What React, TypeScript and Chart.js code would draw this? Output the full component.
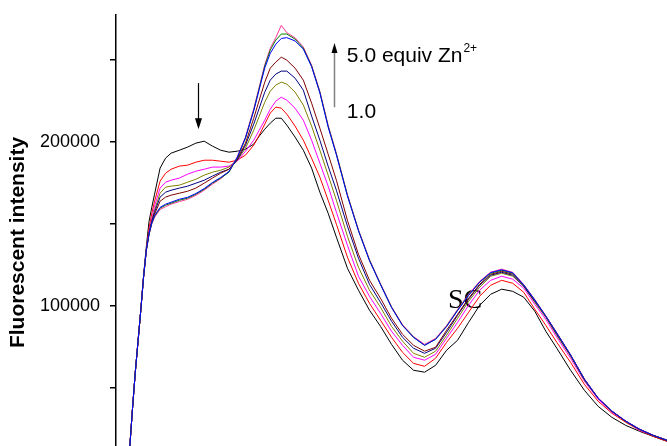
import React, { useEffect, useRef } from 'react';
import { Chart, registerables } from 'chart.js';
Chart.register(...registerables);

// Emission wavelength (nm) – the x axis is not shown in the figure
const wavelengths = [
  405, 406, 407, 408, 409, 410, 411,
  412, 413, 414, 416, 418, 420, 423, 426, 429, 432,
  435, 438, 441, 444, 447, 450, 452, 454, 456, 458,
  460, 462, 465, 468, 471, 474, 477, 480, 484, 488,
  492, 496, 500, 504, 508, 512, 516, 520, 524, 528,
  532, 536, 540, 544, 548, 552, 556, 560, 565, 570,
  575, 580, 585, 590, 595, 600,
];

const black = [
  14000, 37600, 59600, 78500, 97400, 118500, 136000,
  151600, 160200, 168100, 184000, 190100, 193100, 194900, 196800, 199200, 200400,
  197400, 194900, 193700, 194300, 195500, 198600, 203500, 207700, 211400, 214400,
  214400, 210200, 202900, 194900, 184000, 169300, 156500, 141900, 123000, 109600,
  97400, 87600, 76600, 66900, 60800, 59600, 63800, 73000, 79100, 90000,
  100400, 107100, 110200, 108900, 105300, 96800, 84600, 74200, 60800, 48600,
  38800, 32100, 27200, 23600, 20500, 17500,
];
const red = [
  14000, 37600, 59600, 78500, 97400, 117500, 134000,
  147400, 156500, 163800, 176000, 180900, 183300, 185200, 185800, 187600, 188800,
  188800, 188200, 187600, 188800, 191900, 198000, 204100, 210800, 217500, 221200,
  220500, 216900, 209600, 201000, 190000, 178500, 164400, 149800, 129700, 113800,
  101600, 91300, 80900, 71700, 65000, 63200, 68100, 77800, 86400, 96100,
  105900, 112600, 115600, 113800, 108300, 98000, 88200, 77800, 65600, 52200,
  41900, 34600, 29100, 24200, 20500, 17500,
];
const magenta = [
  14000, 37600, 59600, 78500, 97400, 117500, 134000,
  145500, 153500, 160800, 171800, 175400, 176600, 177900, 180300, 182100, 183300,
  184600, 184600, 185200, 188200, 194300, 201000, 207100, 213200, 219900, 224800,
  227200, 225400, 220500, 213200, 201000, 187000, 173000, 157100, 137000, 118100,
  105900, 95500, 84600, 76000, 68700, 66900, 70500, 80300, 90000, 100400,
  109600, 115600, 118100, 116300, 110800, 101000, 91900, 80900, 68100, 54100,
  43100, 35200, 29700, 24200, 21100, 18100,
];
const olive = [
  14000, 37600, 59600, 78500, 97400, 117500, 134000,
  144300, 152200, 158300, 168700, 172400, 173000, 173600, 175400, 177200, 179700,
  181500, 182700, 184600, 188800, 196100, 207100, 215600, 224200, 230900, 234600,
  236400, 235200, 230300, 222400, 209600, 194900, 179700, 164400, 142500, 123600,
  109600, 99200, 87600, 78500, 71100, 68700, 72400, 82100, 92500, 102800,
  111400, 118100, 119900, 118100, 112000, 102200, 93100, 82100, 69300, 54700,
  43700, 35800, 29700, 24800, 21100, 18100,
];
const navy = [
  14000, 37600, 59600, 78500, 97400, 117500, 134000,
  144300, 151600, 157100, 166300, 169300, 170500, 171800, 173000, 174800, 176600,
  179100, 181500, 183300, 188800, 198000, 210800, 220500, 230300, 237600, 241300,
  243100, 243100, 238800, 231500, 215700, 201000, 185200, 170500, 148600, 129100,
  113200, 102200, 90700, 80900, 74200, 71100, 74200, 83900, 94300, 104100,
  112600, 118700, 120500, 118700, 112000, 102800, 93700, 82700, 70000, 55300,
  43700, 35800, 29700, 24800, 21100, 18100,
];
const darkRed = [
  14000, 37600, 59600, 78500, 97400, 117500, 134000,
  144300, 151000, 155900, 163800, 166300, 167500, 168700, 169900, 171800, 174800,
  177900, 180900, 183300, 189400, 199200, 214400, 225400, 236400, 244900, 248600,
  251600, 249800, 244900, 237600, 223600, 208300, 192500, 176600, 152200, 131500,
  115700, 104700, 92500, 82700, 76000, 72400, 74800, 85200, 94900, 104700,
  113200, 119300, 121100, 119300, 112600, 103500, 93700, 83300, 70000, 55300,
  43700, 35800, 29700, 24800, 21100, 18100,
];
const green = [
  14000, 37600, 59600, 78500, 97400, 117500, 134000,
  143700, 150400, 154700, 159600, 161400, 162600, 164400, 165700, 168100, 171100,
  174800, 177900, 181500, 190100, 202200, 219300, 232700, 246200, 255900, 262000,
  265700, 265700, 262600, 257100, 246200, 230300, 209600, 192500, 167500, 146100,
  127900, 113200, 99200, 88200, 80900, 76000, 79700, 87600, 97400, 106500,
  114400, 119900, 121700, 119900, 112600, 103500, 93700, 83300, 70000, 55300,
  43700, 35800, 29700, 24800, 21100, 18100,
];
const pink = [
  14000, 37600, 59600, 78500, 97400, 117500, 134000,
  143500, 150000, 154000, 158800, 160500, 162000, 163600, 165000, 167400, 170500,
  174200, 177500, 181800, 190800, 203000, 220200, 233500, 247000, 257000, 263500,
  271000, 266500, 263400, 257800, 246800, 230800, 210200, 193000, 167900, 146500,
  128300, 113600, 99600, 88600, 81300, 76600, 80200, 88100, 97900, 107000,
  115000, 120600, 122400, 120500, 113000, 103900, 94000, 83600, 70300, 55600,
  43900, 36000, 29900, 25000, 21200, 18200,
];
const blue = [
  14000, 37600, 59600, 78500, 97400, 117500, 134000,
  143900, 150600, 155000, 160000, 162000, 163200, 165000, 166200, 168500, 171500,
  175200, 178300, 181900, 190500, 202500, 219000, 232000, 245000, 254000, 259500,
  263000, 263500, 261500, 256500, 245800, 229800, 209000, 192000, 167000, 145800,
  127600, 113000, 99000, 88000, 80800, 76000, 79600, 87400, 97200, 106400,
  114600, 120300, 122000, 120200, 112800, 103600, 93800, 83400, 70100, 55400,
  43800, 35900, 29800, 24900, 21100, 18100,
];

const tickValues = [0, 50000, 100000, 150000, 200000, 250000];
const labelledTicks = [100000, 200000];
const yTitle = 'Fluorescent intensity';
const upText = '5.0 equiv Zn';
const upSup = '2+';
const lowText = '1.0';
const scText = 'SC';

// annotation anchors in data units [wavelength, intensity]
const downArrow = { x: 429.8, from: 235800, to: 207700 };
const upArrow = { x: 479.2, from: 221100, to: 260200 };
const upTextPos = [483.8, 248600];
const lowTextPos = [483.8, 214400];
const scPos = [520.5, 98600];

const SANS = '"Liberation Sans", Arial, Helvetica, sans-serif';
const SERIF = '"Liberation Serif", "Times New Roman", serif';

const series = [
  { data: blue, color: '#0000FF' },
  { data: green, color: '#008000' },
  { data: pink, color: '#FF3399' },
  { data: darkRed, color: '#800000' },
  { data: navy, color: '#000080' },
  { data: olive, color: '#808000' },
  { data: magenta, color: '#FF00FF' },
  { data: red, color: '#FF0000' },
  { data: black, color: '#000000' },
];

export default function App() {
  const ref = useRef<HTMLCanvasElement>(null);
  useEffect(() => {
    if (!ref.current) return;
    const annot = {
      id: 'annot',
      beforeDatasetsDraw(chart: any) {
        const { ctx, scales } = chart;
        const xs = scales.x, ys = scales.y;
        ctx.save();
        ctx.fillStyle = '#000';
        ctx.textBaseline = 'alphabetic';
        ctx.textAlign = 'left';
        ctx.font = `28px ${SERIF}`;
        ctx.fillText(scText, xs.getPixelForValue(scPos[0]), ys.getPixelForValue(scPos[1]));
        ctx.restore();
      },
      afterDatasetsDraw(chart: any) {
        const { ctx, scales } = chart;
        const xs = scales.x, ys = scales.y;
        ctx.save();
        // down arrow
        const dx = Math.round(xs.getPixelForValue(downArrow.x)) + 0.5;
        const dTop = ys.getPixelForValue(downArrow.from);
        const dTip = ys.getPixelForValue(downArrow.to);
        ctx.strokeStyle = '#000';
        ctx.lineWidth = 1.2;
        ctx.beginPath();
        ctx.moveTo(dx, dTop);
        ctx.lineTo(dx, dTip - 9);
        ctx.stroke();
        ctx.fillStyle = '#000';
        ctx.beginPath();
        ctx.moveTo(dx, dTip);
        ctx.lineTo(dx - 3.5, dTip - 11);
        ctx.lineTo(dx + 3.5, dTip - 11);
        ctx.closePath();
        ctx.fill();
        // up arrow
        const ux = Math.round(xs.getPixelForValue(upArrow.x)) + 0.5;
        const uBot = ys.getPixelForValue(upArrow.from);
        const uTip = ys.getPixelForValue(upArrow.to);
        ctx.strokeStyle = '#808080';
        ctx.lineWidth = 1.5;
        ctx.beginPath();
        ctx.moveTo(ux, uBot);
        ctx.lineTo(ux, uTip + 8);
        ctx.stroke();
        ctx.fillStyle = '#000';
        ctx.beginPath();
        ctx.moveTo(ux, uTip);
        ctx.lineTo(ux - 3, uTip + 10);
        ctx.lineTo(ux + 3, uTip + 10);
        ctx.closePath();
        ctx.fill();
        // texts
        ctx.textBaseline = 'alphabetic';
        ctx.textAlign = 'left';
        ctx.font = `21px ${SANS}`;
        const tx = xs.getPixelForValue(upTextPos[0]);
        const ty = ys.getPixelForValue(upTextPos[1]);
        ctx.fillText(upText, tx, ty);
        const w = ctx.measureText(upText).width;
        ctx.font = `12px ${SANS}`;
        ctx.fillText(upSup, tx + w + 1, ty - 10);
        ctx.font = `21px ${SANS}`;
        ctx.fillText(lowText, xs.getPixelForValue(lowTextPos[0]), ys.getPixelForValue(lowTextPos[1]));
        ctx.restore();
      },
    };

    const chart = new Chart(ref.current, {
      type: 'line',
      data: {
        datasets: series.map((s) => ({
          data: wavelengths.map((w, i) => ({ x: w, y: s.data[i] })),
          borderColor: s.color,
          backgroundColor: s.color,
          borderWidth: 1,
          pointRadius: 0,
          tension: 0,
          fill: false,
        })),
      },
      options: {
        animation: false,
        responsive: false,
        maintainAspectRatio: false,
        layout: { padding: { top: 25, left: 0, right: 0, bottom: 25 } },
        plugins: { legend: { display: false }, tooltip: { enabled: false } },
        scales: {
          x: { type: 'linear', display: false, min: 400, max: 600 },
          y: {
            type: 'linear',
            min: 0,
            max: 277300,
            border: { display: true, color: '#000', width: 1.5 },
            grid: { display: true, drawOnChartArea: false, drawTicks: true, tickLength: 6, color: '#000', lineWidth: 1.5 },
            afterBuildTicks: (s: any) => { s.ticks = tickValues.map((v) => ({ value: v })); },
            ticks: {
              padding: 10,
              color: '#000',
              font: { family: SANS, size: 18 },
              callback: (v: any) => (labelledTicks.includes(Number(v)) ? String(v) : ''),
            },
            title: {
              display: true,
              text: yTitle,
              color: '#000',
              font: { family: SANS, size: 21, weight: 'bold' },
              padding: { top: 6, bottom: 0 },
            },
            afterFit: (s: any) => { s.width = 116; },
          },
        },
      } as any,
      plugins: [annot],
    });
    return () => chart.destroy();
  }, []);

  return (
    <div style={{ position: 'fixed', left: 0, top: 0, width: 667, height: 446, overflow: 'hidden', background: '#fff' }}>
      <canvas ref={ref} width={667} height={505} style={{ display: 'block', width: 667, height: 505, marginTop: -10 }} />
    </div>
  );
}
